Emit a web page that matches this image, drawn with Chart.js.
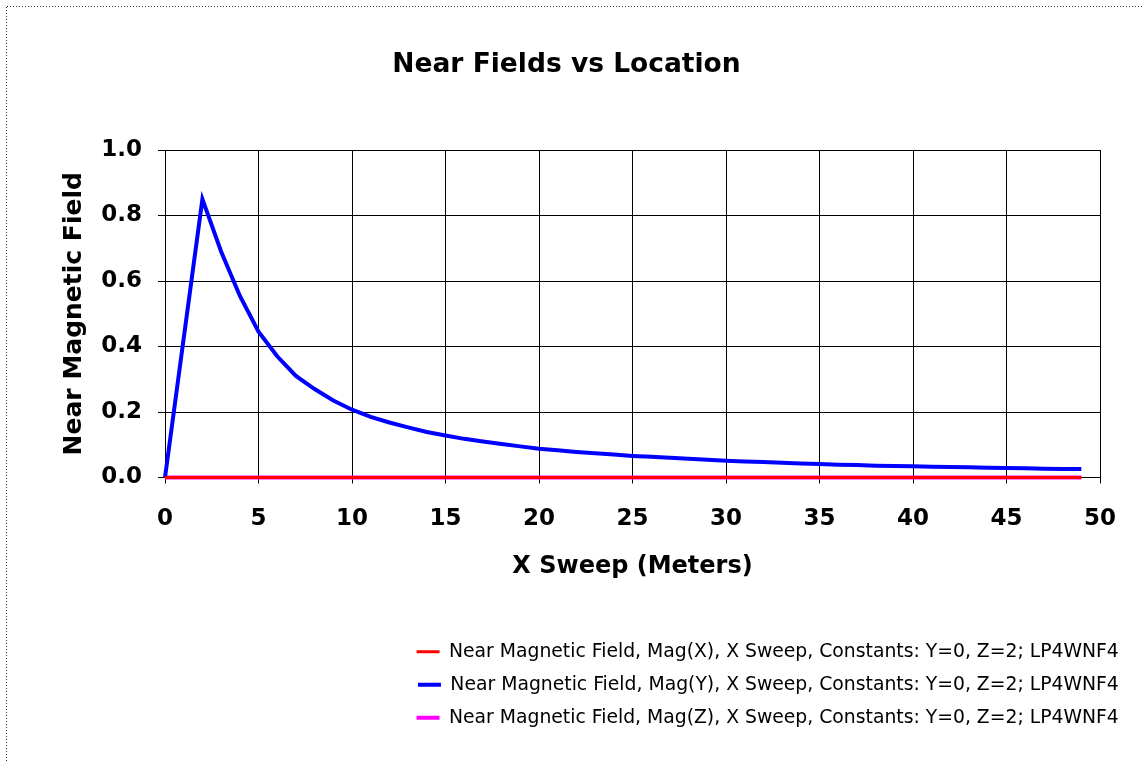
<!DOCTYPE html>
<html>
<head>
<meta charset="utf-8">
<script src="https://cdn.jsdelivr.net/npm/chart.js@4"></script>
<style>
html,body{margin:0;padding:0;background:#fff;}
#wrap{width:1143px;height:761px;}
</style>
</head>
<body>
<div id="wrap"><canvas id="fieldChart" width="1143" height="761"></canvas></div>
<script>
// sweep positions along X (meters)
const sweepX = [0, 2, 3, 4, 5, 6, 7, 8, 9, 10, 11, 12, 13, 14, 15, 16, 17, 18, 19, 20,
  21, 22, 23, 24, 25, 26, 27, 28, 29, 30, 31, 32, 33, 34, 35, 36, 37, 38, 39, 40,
  41, 42, 43, 44, 45, 46, 47, 48, 49];

const magX = [0, 0, 0, 0, 0, 0, 0, 0, 0, 0, 0, 0, 0, 0, 0, 0, 0, 0, 0, 0,
  0, 0, 0, 0, 0, 0, 0, 0, 0, 0, 0, 0, 0, 0, 0, 0, 0, 0, 0, 0,
  0, 0, 0, 0, 0, 0, 0, 0, 0];

const magY = [0, 0.85, 0.69, 0.555, 0.445, 0.37, 0.31, 0.27, 0.235, 0.207,
  0.185, 0.168, 0.153, 0.139, 0.128, 0.118, 0.11, 0.102, 0.095, 0.088,
  0.083, 0.078, 0.074, 0.07, 0.066, 0.063, 0.06, 0.057, 0.054, 0.051,
  0.049, 0.047, 0.045, 0.043, 0.041, 0.039, 0.038, 0.036, 0.035, 0.034,
  0.033, 0.032, 0.031, 0.03, 0.029, 0.028, 0.027, 0.026, 0.026];

const magZ = [0, 0, 0, 0, 0, 0, 0, 0, 0, 0, 0, 0, 0, 0, 0, 0, 0, 0, 0, 0,
  0, 0, 0, 0, 0, 0, 0, 0, 0, 0, 0, 0, 0, 0, 0, 0, 0, 0, 0, 0,
  0, 0, 0, 0, 0, 0, 0, 0, 0];

const seriesNames = [
  "Near Magnetic Field, Mag(X), X Sweep, Constants: Y=0, Z=2; LP4WNF4",
  "Near Magnetic Field, Mag(Y), X Sweep, Constants: Y=0, Z=2; LP4WNF4",
  "Near Magnetic Field, Mag(Z), X Sweep, Constants: Y=0, Z=2; LP4WNF4"
];
const seriesColors = ["#ff0000", "#0000ff", "#ff00ff"];

function pts(ys){
  return sweepX.map((x, i) => ({x: x, y: ys[i]}));
}

// white page with a dotted frame along the top and left edges
const frame = {
  id: "frame",
  beforeDraw(chart){
    const c = chart.ctx;
    c.save();
    c.fillStyle = "#fff";
    c.fillRect(0, 0, chart.width, chart.height);
    c.strokeStyle = "#333";
    c.lineWidth = 1;
    c.setLineDash([1, 2]);
    c.beginPath();
    c.moveTo(7, 6.5); c.lineTo(chart.width, 6.5);
    c.moveTo(6.5, 7); c.lineTo(6.5, chart.height);
    c.stroke();
    c.restore();
  }
};

Chart.defaults.font.family = "'DejaVu Sans', sans-serif";
Chart.defaults.color = "#000";

new Chart(document.getElementById("fieldChart"), {
  type: "scatter",
  data: {
    datasets: [
      {label: seriesNames[0], data: pts(magX), borderColor: seriesColors[0], backgroundColor: seriesColors[0], borderWidth: 3},
      {label: seriesNames[1], data: pts(magY), borderColor: seriesColors[1], backgroundColor: seriesColors[1], borderWidth: 4},
      {label: seriesNames[2], data: pts(magZ), borderColor: seriesColors[2], backgroundColor: seriesColors[2], borderWidth: 4}
    ]
  },
  options: {
    responsive: false,
    animation: false,
    showLine: true,
    clip: false,
    elements: {point: {radius: 0, hoverRadius: 0}, line: {tension: 0}},
    layout: {padding: {left: 0, right: 10, top: 0, bottom: 23.75}},
    plugins: {
      tooltip: {enabled: false},
      title: {
        display: true,
        text: "Near Fields vs Location",
        font: {size: 26.5, weight: "bold"},
        color: "#000",
        padding: {top: 49.2, bottom: 69}
      },
      legend: {
        position: "bottom",
        align: "end",
        labels: {
          usePointStyle: true,
          pointStyle: "line",
          pointStyleWidth: 23,
          font: {size: 18.8},
          padding: 14.2,
          color: "#000"
        }
      }
    },
    scales: {
      x: {
        type: "linear",
        min: 0,
        max: 50,
        afterFit(s){ s.height = 150.75; },
        ticks: {stepSize: 5, padding: 22, font: {size: 23, weight: "bold"}, color: "#000", maxRotation: 0},
        grid: {color: "#000", lineWidth: 1, tickLength: 6, tickColor: "#000"},
        border: {color: "#000", width: 1},
        title: {display: true, text: "X Sweep (Meters)", font: {size: 24, weight: "bold"}, color: "#000", padding: {top: 0, bottom: 47}}
      },
      y: {
        min: 0,
        max: 1,
        afterFit(s){ s.width = 165; },
        ticks: {stepSize: 0.2, padding: 16, font: {size: 23, weight: "bold"}, color: "#000",
          callback: v => v.toFixed(1)},
        grid: {color: "#000", lineWidth: 1, tickLength: 7, tickColor: "#000"},
        border: {color: "#000", width: 1},
        title: {display: true, text: "Near Magnetic Field", font: {size: 25, weight: "bold"}, color: "#000", padding: {top: 59, bottom: 0}}
      },
      yRight: {
        position: "right",
        display: true,
        afterFit(s){ s.width = 33; },
        ticks: {display: false},
        grid: {display: false},
        border: {display: false}
      }
    }
  },
  plugins: [frame]
});
</script>
</body>
</html>
